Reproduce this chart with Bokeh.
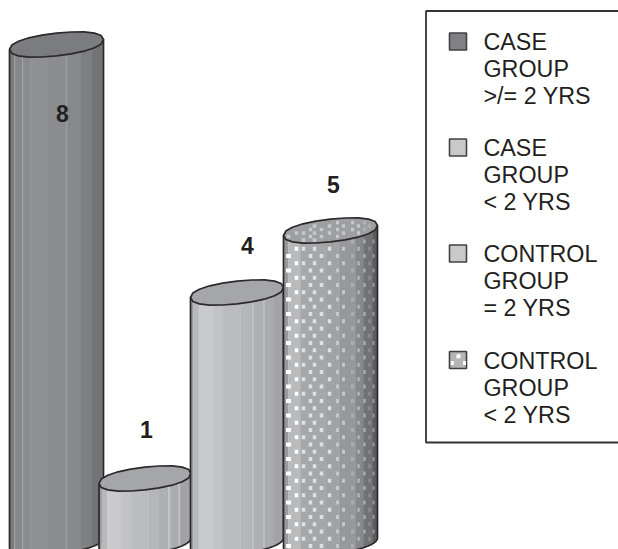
import numpy as np
from bokeh.plotting import figure
from bokeh.models import Range1d
from bokeh.core.properties import value
from bokeh.embed import file_html
from bokeh.resources import INLINE

# Data
categories = ["CASE GROUP >/= 2 YRS", "CASE GROUP < 2 YRS", "CONTROL GROUP = 2 YRS", "CONTROL GROUP < 2 YRS"]
values = [8, 1, 4, 5]
legend_lines = [["CASE", "GROUP", ">/= 2 YRS"], ["CASE", "GROUP", "< 2 YRS"],
                ["CONTROL", "GROUP", "= 2 YRS"], ["CONTROL", "GROUP", "< 2 YRS"]]

# Layout (pixels of the page) and style
W, H = 618, 549
BASE_PX, UNIT_PX = 540.0, 62.0
centers = [56.0, 144.5, 236.5, 330.0]
half_w = [47.0, 46.0, 46.5, 47.0]
label_offset_px = [69, -49, -47, -46]
label_cx = [62, 146, 247, 333]
INK = "#2b292a"


def val(px):
    return (BASE_PX - np.asarray(px, dtype=float)) / UNIT_PX


p = figure(width=W, height=H, output_backend="svg", toolbar_location=None,
           x_range=Range1d(0, W), y_range=Range1d(float(val(H)), float(val(0))),
           x_axis_location=None, y_axis_location=None, min_border=0,
           outline_line_color=None, background_fill_color="white",
           border_fill_color="white", styles={"position": "absolute", "left": "0", "top": "0"})
p.grid.visible = False

B, TILT, N = 11.3, 5.0, 2.25

strips_dark = [(0, .055, "#7a7b7e"), (.055, .14, "#86878a"), (.14, .22, "#8a8b8e"), (.22, .39, "#8f9093"),
               (.39, .6, "#8c8d90"), (.6, .76, "#87888b"), (.76, .87, "#7e7f82"), (.87, 1.0, "#737477")]
strips_light = [(0, .03, "#999b9e"), (.03, .09, "#b6b8ba"), (.09, .24, "#c9cacc"), (.24, .35, "#c2c3c5"),
                (.35, .54, "#babcbe"), (.54, .65, "#b4b6b8"), (.65, .78, "#aeb0b3"), (.78, .89, "#a9abae"),
                (.89, 1.0, "#a1a3a6")]
strips_dot = [(0, .05, "#96989b"), (.05, .18, "#b9babc"), (.18, .45, "#a5a7a9"), (.45, .6, "#a0a2a4"),
              (.6, .77, "#96989a"), (.77, .85, "#86888b"), (.85, .95, "#707275"), (.95, 1.0, "#5a5b5e")]
bar_strips = [strips_dark, strips_light, strips_light, strips_dot]
cap_colors = ["#7b7c7f", "#a4a6a9", "#a4a6a9", "#9d9fa2"]
highlight_u = [[.055, .14, .61], [.76, .87], [.67, .79], []]
highlight_c = ["#a8a9ab", "#d5d6d7", "#d5d6d7", "#ccc"]


def bulge(c):
    return (1 - np.abs(c) ** N) ** (1 / N)


def arc_front(x, cx, a, cy):
    c = np.clip((x - cx) / a, -1, 1)
    return cy + B * bulge(c) - TILT * c


def arc_back(x, cx, a, cy):
    c = np.clip((x - cx) / a, -1, 1)
    return cy - B * bulge(c) - TILT * c


dot_cols_a = [288, 310, 321, 337, 352, 364, 373]
dot_cols_b = [296, 303, 314, 329, 343, 358, 369]


def dot_style(x):
    w = 5.0 if x < 292 else 3.5 if x < 335 else 3.0 if x < 362 else 2.3
    c = "#ffffff" if x < 300 else "#dfe0e1" if x < 333 else "#c6c7c9" if x < 352 else "#acadaf" if x < 365 else "#8e8f91"
    return w, c


for i, v in enumerate(values):
    cx, a = centers[i], half_w[i]
    cy = BASE_PX - UNIT_PX * v
    base = BASE_PX + 2
    xs, ys, cols = [], [], []
    for u0, u1, c in bar_strips[i]:
        x = np.linspace(cx - a + 2 * a * u0, cx - a + 2 * a * u1, 8)
        top = arc_front(x, cx, a, cy)
        bot = arc_front(x, cx, a, base)
        xs.append(np.r_[x, x[::-1]])
        ys.append(val(np.r_[top, bot[::-1]]))
        cols.append(c)
    p.patches(xs, ys, fill_color=cols, line_color=cols, line_width=0.4)

    for u in highlight_u[i]:
        x = cx - a + 2 * a * u
        p.line([x, x], val([arc_front(x, cx, a, cy), arc_front(x, cx, a, base)]),
               line_color=highlight_c[i], line_width=0.9)

    if i == 3:
        for cols_set, phase in ((dot_cols_a, 0.0), (dot_cols_b, 7.25)):
            for x0 in cols_set:
                w, c = dot_style(x0)
                xa = np.array(x0, float)
                yy = np.arange(241 + phase, 552, 14.5)
                yy = yy[(yy > arc_front(xa, cx, a, cy) + 3) & (yy < arc_front(xa, cx, a, base) - 3)]
                p.rect([x0] * len(yy), val(yy), width=w, height=4 / UNIT_PX, fill_color=c, line_color=None)

    # side outlines and bottom arc
    xb = cx + a * np.cos(np.linspace(np.pi, 0, 60))
    p.line(np.r_[cx - a, xb, cx + a], val(np.r_[cy + TILT, arc_front(xb, cx, a, base), cy - TILT]),
           line_color=INK, line_width=1.7)

    # cap
    t = np.linspace(np.pi, 0, 11)
    xf = cx + a * np.cos(t)
    capx = np.r_[xf, xf[::-1][1:-1]]
    capy = np.r_[arc_front(xf, cx, a, cy), arc_back(xf[::-1][1:-1], cx, a, cy)]
    p.patch(capx, val(capy), fill_color=cap_colors[i], line_color=INK, line_width=1.7)

    if i == 3:
        for cols_set, phase in ((dot_cols_a, 0.0), (dot_cols_b, 3.5)):
            for x0 in cols_set:
                w, c = dot_style(x0)
                w = min(w, 3.6)
                c = "#c8c9cb" if x0 < 362 else "#b4b5b7"
                yy = np.arange(222 + phase, 246, 7.0)
                xa = np.array(x0, float)
                yy = yy[(yy > arc_back(xa, cx, a, cy) + 3) & (yy < arc_front(xa, cx, a, cy) - 3)]
                if len(yy):
                    p.rect([x0] * len(yy), val(yy), width=w, height=3.5 / UNIT_PX, fill_color=c, line_color=None)

# value labels
label_y = [BASE_PX - UNIT_PX * v + o for v, o in zip(values, label_offset_px)]
p.text(label_cx, val(label_y), text=[str(v) for v in values],
       text_font=value("Liberation Sans"), text_font_style="bold", text_font_size="23px",
       text_color="#231f20", text_align="center", text_baseline="middle")

# legend
LEFT, TOP, BOTTOM = 425.5, 10.5, 442
p.line([W + 2, LEFT, LEFT, W + 2], val([TOP, TOP, BOTTOM, BOTTOM]), line_color="#333333", line_width=1.8)
legend_fill = ["#808184", "#c8c9cb", "#c8c9cb", "#b4b5b7"]
row_top = [32.5, 138.5, 244.5, 351.0]
p.rect([457.5] * 4, val(np.array(row_top) + 8.5), width=17, height=17 / UNIT_PX,
       fill_color=legend_fill, line_color="#414042", line_width=1.6)
p.rect([458, 451.8, 464], val([355.8, 362.5, 362.5]), width=[4, 3, 3], height=4 / UNIT_PX,
       fill_color="white", line_color=None)
tx, ty, tt = [], [], []
for r, lines in zip(row_top, legend_lines):
    for j, s in enumerate(lines):
        tx.append(483)
        ty.append(r + 9 + 27 * j)
        tt.append(s)
p.text(tx, val(ty), text=tt, text_font=value("Liberation Sans"), text_font_size="23.3px",
       text_color="#231f20", text_align="left", text_baseline="middle")

open("out.html", "w").write(file_html(p, INLINE))
